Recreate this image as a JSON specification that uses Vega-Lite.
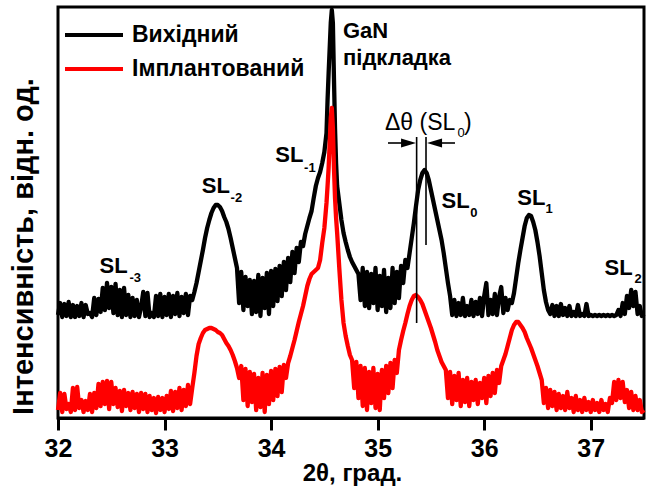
{
"$schema": "https://vega.github.io/schema/vega-lite/v6.json",
"width": 586, "height": 411,
"autosize": {"type": "none"},
"padding": {"left": 58, "top": 7, "right": 12, "bottom": 70},
"config": {"font": "Liberation Sans", "view": {"stroke": "#000000", "strokeWidth": 3}},
"encoding": {
"x": {"field": "x", "type": "quantitative", "scale": {"domain": [32, 37.5], "nice": false, "zero": false},
 "axis": {"values": [32, 32.5, 33, 33.5, 34, 34.5, 35, 35.5, 36, 36.5, 37, 37.5], "format": "d", "zindex": 2,
  "labelExpr": "datum.value % 1 == 0 ? datum.label : ''",
  "ticks": true, "tickSize": 12, "tickWidth": 3, "tickColor": "#000000", "tickOpacity": 1,
  "encode": {"ticks": {"update": {"y2": {"signal": "datum.value % 1 == 0 ? 12 : 6"}}}},
  "domainWidth": 3, "domainColor": "#000000", "grid": false,
  "labelFontSize": 25, "labelFontWeight": "bold", "labelColor": "#000000", "labelBaseline": "alphabetic", "labelPadding": 26, "labelFlush": false,
  "title": "2θ, град.", "titleFontSize": 24, "titleFontWeight": "bold", "titleColor": "#000000",
  "titleX": 294, "titleY": 62, "titleAlign": "center", "titleBaseline": "alphabetic"}},
"y": {"field": "y", "type": "quantitative", "scale": {"domain": [0, 411], "nice": false},
 "axis": {"labels": false, "ticks": false, "domain": false, "grid": false,
  "title": "Інтенсивність, відн. од.", "titleFontSize": 29, "titleFontWeight": "bold", "titleColor": "#000000",
  "titleAngle": -90, "titleX": -26, "titleY": 239, "titleAlign": "center", "titleBaseline": "alphabetic"}}
},
"layer": [
{
"data": {"values": [
{"x":32.00,"b":103,"r":8},{"x":32.02,"b":115,"r":25},{"x":32.04,"b":101,"r":6},{"x":32.06,"b":114,"r":24},{"x":32.08,"b":102,"r":9},{"x":32.10,"b":116,"r":14},{"x":32.12,"b":101,"r":6},{"x":32.14,"b":113,"r":30},{"x":32.16,"b":101,"r":8},{"x":32.18,"b":112,"r":31},
{"x":32.20,"b":102,"r":10},{"x":32.22,"b":115,"r":18},{"x":32.24,"b":101,"r":6},{"x":32.26,"b":113,"r":17},{"x":32.28,"b":104,"r":8},{"x":32.30,"b":105,"r":24},{"x":32.32,"b":101,"r":6},{"x":32.34,"b":120,"r":25},{"x":32.36,"b":103,"r":10},{"x":32.38,"b":119,"r":34},
{"x":32.40,"b":106,"r":12},{"x":32.42,"b":130,"r":36},{"x":32.44,"b":108,"r":14},{"x":32.46,"b":135,"r":37},{"x":32.48,"b":110,"r":9},{"x":32.50,"b":131,"r":36},{"x":32.52,"b":105,"r":14},{"x":32.54,"b":134,"r":30},{"x":32.56,"b":103,"r":11},{"x":32.58,"b":128,"r":27},
{"x":32.60,"b":101,"r":7},{"x":32.62,"b":130,"r":28},{"x":32.64,"b":103,"r":12},{"x":32.66,"b":123,"r":25},{"x":32.68,"b":101,"r":8},{"x":32.70,"b":120,"r":26},{"x":32.72,"b":102,"r":10},{"x":32.74,"b":118,"r":24},{"x":32.76,"b":101,"r":6},{"x":32.78,"b":111,"r":25},
{"x":32.80,"b":126,"r":9},{"x":32.82,"b":102,"r":24},{"x":32.84,"b":125,"r":6},{"x":32.86,"b":101,"r":22},{"x":32.88,"b":105,"r":8},{"x":32.90,"b":101,"r":20},{"x":32.92,"b":122,"r":5},{"x":32.94,"b":102,"r":21},{"x":32.96,"b":124,"r":8},{"x":32.98,"b":101,"r":20},
{"x":33.00,"b":121,"r":6},{"x":33.02,"b":103,"r":22},{"x":33.04,"b":124,"r":9},{"x":33.06,"b":101,"r":27},{"x":33.08,"b":122,"r":7},{"x":33.10,"b":104,"r":26},{"x":33.12,"b":125,"r":10},{"x":33.14,"b":102,"r":30},{"x":33.16,"b":121,"r":8},{"x":33.18,"b":105,"r":28},
{"x":33.20,"b":124,"r":12},{"x":33.22,"b":103,"r":33},{"x":33.24,"b":122,"r":14},{"x":33.26,"b":118,"r":30},{"x":33.28,"b":126,"r":45},{"x":33.30,"b":135,"r":62},{"x":33.32,"b":146,"r":74},{"x":33.34,"b":157,"r":80},{"x":33.36,"b":168,"r":85},{"x":33.38,"b":180,"r":88},
{"x":33.40,"b":190,"r":89},{"x":33.42,"b":198,"r":90},{"x":33.44,"b":205,"r":90},{"x":33.46,"b":210,"r":89},{"x":33.48,"b":213,"r":88},{"x":33.50,"b":213,"r":86},{"x":33.52,"b":211,"r":85},{"x":33.54,"b":207,"r":83},{"x":33.56,"b":201,"r":79},{"x":33.58,"b":196,"r":75},
{"x":33.60,"b":189,"r":72},{"x":33.62,"b":180,"r":68},{"x":33.64,"b":170,"r":63},{"x":33.66,"b":160,"r":57},{"x":33.68,"b":150,"r":50},{"x":33.70,"b":115,"r":40},{"x":33.72,"b":146,"r":52},{"x":33.74,"b":108,"r":18},{"x":33.76,"b":141,"r":49},{"x":33.78,"b":112,"r":12},
{"x":33.80,"b":138,"r":46},{"x":33.82,"b":104,"r":16},{"x":33.84,"b":137,"r":44},{"x":33.86,"b":106,"r":8},{"x":33.88,"b":143,"r":40},{"x":33.90,"b":102,"r":11},{"x":33.92,"b":140,"r":45},{"x":33.94,"b":110,"r":6},{"x":33.96,"b":145,"r":43},{"x":33.98,"b":104,"r":14},
{"x":34.00,"b":147,"r":47},{"x":34.02,"b":112,"r":18},{"x":34.04,"b":149,"r":49},{"x":34.06,"b":117,"r":22},{"x":34.08,"b":152,"r":51},{"x":34.10,"b":122,"r":26},{"x":34.12,"b":156,"r":53},{"x":34.14,"b":128,"r":40},{"x":34.16,"b":160,"r":55},{"x":34.18,"b":136,"r":62},
{"x":34.20,"b":166,"r":70},{"x":34.22,"b":145,"r":78},{"x":34.24,"b":170,"r":87},{"x":34.26,"b":156,"r":96},{"x":34.28,"b":176,"r":104},{"x":34.30,"b":172,"r":112},{"x":34.32,"b":184,"r":122},{"x":34.34,"b":192,"r":132},{"x":34.36,"b":200,"r":139},{"x":34.38,"b":207,"r":144},
{"x":34.40,"b":220,"r":146},{"x":34.42,"b":232,"r":148},{"x":34.44,"b":240,"r":150},{"x":34.46,"b":246,"r":158},{"x":34.48,"b":255,"r":175},{"x":34.50,"b":266,"r":190},{"x":34.52,"b":285,"r":215},{"x":34.53,"b":318,"r":232},{"x":34.54,"b":345,"r":250},{"x":34.55,"b":370,"r":275},
{"x":34.56,"b":395,"r":300},{"x":34.57,"b":408,"r":310},{"x":34.58,"b":395,"r":290},{"x":34.59,"b":340,"r":250},{"x":34.60,"b":290,"r":220},{"x":34.61,"b":255,"r":200},{"x":34.62,"b":232,"r":185},{"x":34.64,"b":215,"r":150},{"x":34.66,"b":198,"r":118},{"x":34.68,"b":185,"r":95},
{"x":34.70,"b":176,"r":82},{"x":34.72,"b":168,"r":72},{"x":34.74,"b":161,"r":63},{"x":34.76,"b":156,"r":58},{"x":34.78,"b":152,"r":30},{"x":34.80,"b":148,"r":56},{"x":34.82,"b":144,"r":20},{"x":34.84,"b":118,"r":52},{"x":34.86,"b":150,"r":12},{"x":34.88,"b":112,"r":50},
{"x":34.90,"b":146,"r":8},{"x":34.92,"b":110,"r":46},{"x":34.94,"b":144,"r":15},{"x":34.96,"b":115,"r":50},{"x":34.98,"b":150,"r":10},{"x":35.00,"b":108,"r":44},{"x":35.02,"b":142,"r":8},{"x":35.04,"b":112,"r":48},{"x":35.06,"b":148,"r":20},{"x":35.08,"b":106,"r":52},
{"x":35.10,"b":140,"r":25},{"x":35.12,"b":110,"r":55},{"x":35.14,"b":150,"r":30},{"x":35.16,"b":115,"r":58},{"x":35.18,"b":146,"r":45},{"x":35.20,"b":120,"r":68},{"x":35.22,"b":152,"r":78},{"x":35.24,"b":135,"r":87},{"x":35.26,"b":158,"r":95},{"x":35.28,"b":150,"r":104},
{"x":35.30,"b":165,"r":112},{"x":35.32,"b":180,"r":118},{"x":35.34,"b":195,"r":122},{"x":35.36,"b":212,"r":123},{"x":35.38,"b":228,"r":121},{"x":35.40,"b":238,"r":118},{"x":35.42,"b":245,"r":114},{"x":35.44,"b":248,"r":108},{"x":35.46,"b":245,"r":102},{"x":35.48,"b":238,"r":96},
{"x":35.50,"b":228,"r":90},{"x":35.52,"b":218,"r":83},{"x":35.54,"b":208,"r":76},{"x":35.56,"b":198,"r":68},{"x":35.58,"b":188,"r":62},{"x":35.60,"b":178,"r":56},{"x":35.62,"b":165,"r":52},{"x":35.64,"b":150,"r":48},{"x":35.66,"b":135,"r":20},{"x":35.68,"b":122,"r":46},
{"x":35.70,"b":103,"r":14},{"x":35.72,"b":118,"r":42},{"x":35.74,"b":102,"r":18},{"x":35.76,"b":115,"r":45},{"x":35.78,"b":103,"r":12},{"x":35.80,"b":120,"r":38},{"x":35.82,"b":102,"r":16},{"x":35.84,"b":112,"r":40},{"x":35.86,"b":103,"r":12},{"x":35.88,"b":118,"r":36},
{"x":35.90,"b":102,"r":18},{"x":35.92,"b":116,"r":38},{"x":35.94,"b":104,"r":14},{"x":35.96,"b":120,"r":35},{"x":35.98,"b":102,"r":20},{"x":36.00,"b":122,"r":40},{"x":36.02,"b":135,"r":15},{"x":36.04,"b":103,"r":42},{"x":36.06,"b":118,"r":22},{"x":36.08,"b":104,"r":45},
{"x":36.10,"b":124,"r":25},{"x":36.12,"b":103,"r":48},{"x":36.14,"b":121,"r":35},{"x":36.16,"b":131,"r":52},{"x":36.18,"b":105,"r":58},{"x":36.20,"b":120,"r":64},{"x":36.22,"b":108,"r":72},{"x":36.24,"b":118,"r":80},{"x":36.26,"b":115,"r":88},{"x":36.28,"b":125,"r":93},
{"x":36.30,"b":140,"r":96},{"x":36.32,"b":155,"r":96},{"x":36.34,"b":168,"r":93},{"x":36.36,"b":180,"r":90},{"x":36.38,"b":192,"r":86},{"x":36.40,"b":200,"r":80},{"x":36.42,"b":203,"r":75},{"x":36.44,"b":202,"r":70},{"x":36.46,"b":196,"r":64},{"x":36.48,"b":188,"r":58},
{"x":36.50,"b":176,"r":52},{"x":36.52,"b":162,"r":45},{"x":36.54,"b":145,"r":38},{"x":36.56,"b":128,"r":15},{"x":36.58,"b":116,"r":30},{"x":36.60,"b":108,"r":10},{"x":36.62,"b":104,"r":28},{"x":36.64,"b":113,"r":12},{"x":36.66,"b":102,"r":26},{"x":36.68,"b":112,"r":8},
{"x":36.70,"b":102,"r":24},{"x":36.72,"b":114,"r":10},{"x":36.74,"b":103,"r":22},{"x":36.76,"b":110,"r":8},{"x":36.78,"b":102,"r":26},{"x":36.80,"b":112,"r":10},{"x":36.82,"b":102,"r":20},{"x":36.84,"b":106,"r":6},{"x":36.86,"b":102,"r":22},{"x":36.88,"b":113,"r":8},
{"x":36.90,"b":102,"r":18},{"x":36.92,"b":104,"r":6},{"x":36.94,"b":102,"r":20},{"x":36.96,"b":114,"r":8},{"x":36.98,"b":102,"r":16},{"x":37.00,"b":103,"r":6},{"x":37.02,"b":102,"r":18},{"x":37.04,"b":103,"r":8},{"x":37.06,"b":102,"r":15},{"x":37.08,"b":103,"r":6},
{"x":37.10,"b":102,"r":18},{"x":37.12,"b":103,"r":8},{"x":37.14,"b":102,"r":14},{"x":37.16,"b":103,"r":6},{"x":37.18,"b":102,"r":20},{"x":37.20,"b":103,"r":15},{"x":37.22,"b":102,"r":36},{"x":37.24,"b":103,"r":18},{"x":37.26,"b":108,"r":38},{"x":37.28,"b":102,"r":20},
{"x":37.30,"b":115,"r":36},{"x":37.32,"b":104,"r":16},{"x":37.34,"b":122,"r":28},{"x":37.36,"b":110,"r":10},{"x":37.38,"b":128,"r":26},{"x":37.40,"b":112,"r":8},{"x":37.42,"b":126,"r":22},{"x":37.44,"b":104,"r":8},{"x":37.46,"b":112,"r":18},{"x":37.48,"b":102,"r":6},
{"x":37.50,"b":104,"r":8}
]},
"transform": [{"fold": ["b", "r"], "as": ["s", "y"]}],
"mark": {"type": "line", "strokeWidth": 4.3, "strokeJoin": "round"},
"encoding": {
"color": {"field": "s", "type": "nominal", "scale": {"domain": ["b", "r"], "range": ["#000000", "#ff0000"]},
 "legend": {"orient": "none", "legendX": 5, "legendY": 16, "title": null, "padding": 0,
  "symbolType": "stroke", "symbolSize": 3364, "symbolStrokeWidth": 4, "clipHeight": 24, "rowPadding": 10,
  "labelOffset": 7, "labelFontSize": 23, "labelFontWeight": "bold", "labelColor": "#000000", "labelLimit": 400,
  "labelExpr": "datum.value == 'b' ? 'Вихідний' : 'Імплантований'"}}
}
},
{
"data": {"values": [
{"x": 35.366, "x2": 35.366, "y": 95, "y2": 281},
{"x": 35.454, "x2": 35.454, "y": 173, "y2": 281},
{"x": 35.097, "x2": 35.30, "y": 275, "y2": 275},
{"x": 35.52, "x2": 35.726, "y": 275, "y2": 275}
]},
"mark": {"type": "rule", "color": "#000000", "strokeWidth": 1.6},
"encoding": {
"x2": {"field": "x2"},
"y2": {"field": "y2"}
}
},
{
"data": {"values": [
{"x": 35.29, "y": 275, "d": "r"},
{"x": 35.534, "y": 275, "d": "l"}
]},
"mark": {"type": "point", "filled": true, "color": "#000000", "opacity": 1, "size": 225},
"encoding": {
"shape": {"field": "d", "type": "nominal", "scale": {"domain": ["r", "l"], "range": ["M-1,-0.6L1,0L-1,0.6Z", "M1,-0.6L-1,0L1,0.6Z"]}, "legend": null}
}
},
{
"data": {"values": [
{"x": 32.39, "y": 145, "t": "SL"},
{"x": 33.35, "y": 225, "t": "SL"},
{"x": 34.04, "y": 256, "t": "SL"},
{"x": 35.60, "y": 210, "t": "SL"},
{"x": 36.31, "y": 213, "t": "SL"},
{"x": 37.13, "y": 143, "t": "SL"},
{"x": 34.675, "y": 380, "t": "GaN"},
{"x": 34.675, "y": 353, "t": "підкладка"}
]},
"mark": {"type": "text", "align": "left", "baseline": "alphabetic", "fontSize": 22, "fontWeight": "bold", "color": "#000000"},
"encoding": {
"text": {"field": "t"}
}
},
{
"data": {"values": [
{"x": 32.67, "y": 136, "t": "-3"},
{"x": 33.62, "y": 216, "t": "-2"},
{"x": 34.31, "y": 246, "t": "-1"},
{"x": 35.87, "y": 201, "t": "0"},
{"x": 36.575, "y": 205, "t": "1"},
{"x": 37.41, "y": 135, "t": "2"}
]},
"mark": {"type": "text", "align": "left", "baseline": "alphabetic", "fontSize": 13, "fontWeight": "bold", "color": "#000000"},
"encoding": {
"text": {"field": "t"}
}
},
{
"data": {"values": [
{"x": 35.069, "y": 288, "t": "Δθ (SL", "f": 23},
{"x": 35.75, "y": 281, "t": "0", "f": 13},
{"x": 35.81, "y": 288, "t": ")", "f": 23}
]},
"mark": {"type": "text", "align": "left", "baseline": "alphabetic", "fontWeight": "normal", "color": "#000000"},
"encoding": {
"text": {"field": "t"},
"size": {"field": "f", "type": "quantitative", "scale": null}
}
}
]
}
